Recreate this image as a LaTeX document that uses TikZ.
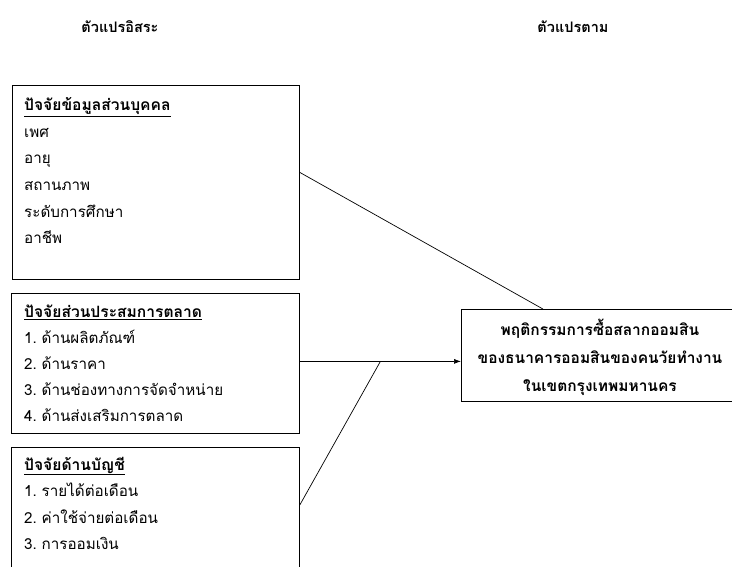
\documentclass[tikz,border=0pt]{standalone}
\usepackage{fontspec}
\setmainfont[Script=Thai,WordSpace=0.6]{Loma}
\usetikzlibrary{calc,arrows.meta}
\tikzset{
  box/.style={draw, line width=0.8pt, anchor=north west, inner sep=0pt},
  item/.style={anchor=base west, inner sep=0pt, font=\fontsize{15.2}{17}\selectfont},
  head/.style={anchor=base west, inner sep=0pt, font=\bfseries\fontsize{15.6}{17}\selectfont},
  title/.style={anchor=base, inner sep=0pt, font=\bfseries\fontsize{14.5}{16}\selectfont},
  ttext/.style={anchor=base, inner sep=0pt, font=\bfseries\fontsize{15.5}{17}\selectfont},
  conn/.style={line width=0.7pt},
}
\begin{document}
\begin{tikzpicture}[x=1pt,y=-1pt]
\useasboundingbox (0,0) rectangle (732,567);
\clip (0,0) rectangle (732,567);
% titles
\node[title] (h1) at (120,33) {ตัวแปรอิสระ};
\node[title] (h2) at (573,33) {ตัวแปรตาม};
% boxes
\node[box, minimum width=287pt, minimum height=194pt] (b1) at (12,85) {};
\node[box, minimum width=288pt, minimum height=140pt] (b2) at (11,293) {};
\node[box, minimum width=288pt, minimum height=140pt] (b3) at (11,447) {};
\node[box, minimum width=280pt, minimum height=92pt] (t) at (461,309) {};
% box 1 text
\node[head] (b1h) at (24,111) {\underline{ปัจจัยข้อมูลส่วนบุคคล}};
\node[item] (b1a) at (24,138) {เพศ};
\node[item] (b1b) at (24,164) {อายุ};
\node[item] (b1c) at (24,191) {สถานภาพ};
\node[item] (b1d) at (24,218) {ระดับการศึกษา};
\node[item] (b1e) at (24,244) {อาชีพ};
% box 2 text
\node[head] (b2h) at (24,318) {\underline{ปัจจัยส่วนประสมการตลาด}};
\node[item] (b2a) at (24,343) {1. ด้านผลิตภัณฑ์};
\node[item] (b2b) at (24,369) {2. ด้านราคา};
\node[item] (b2c) at (24,395) {3. ด้านช่องทางการจัดจำหน่าย};
\node[item] (b2d) at (24,421) {4. ด้านส่งเสริมการตลาด};
% box 3 text
\node[head] (b3h) at (24,470) {\underline{ปัจจัยด้านบัญชี}};
\node[item] (b3a) at (24,496) {1. รายได้ต่อเดือน};
\node[item] (b3b) at (24,523) {2. ค่าใช้จ่ายต่อเดือน};
\node[item] (b3c) at (24,549) {3. การออมเงิน};
% target text
\node[ttext] (t1) at (600,335) {พฤติกรรมการซื้อสลากออมสิน};
\node[ttext] (t2) at (600,363) {ของธนาคารออมสินของคนวัยทำงาน};
\node[ttext] (t3) at (600,391) {ในเขตกรุงเทพมหานคร};
% connectors
\coordinate (j) at ($(b2.east)!0.5!(b2.east -| t.west)$);
\draw[conn] ([yshift=10pt]b1.east) -- ([xshift=-58.5pt]t.north);
\draw[conn, -{Latex[length=7pt,width=5pt]}] ([yshift=2pt]b2.east) -- ([yshift=2pt]b2.east -| t.west);
\draw[conn] ([yshift=-58pt]b3.north east) -- ([yshift=2pt]j);
\end{tikzpicture}
\end{document}
